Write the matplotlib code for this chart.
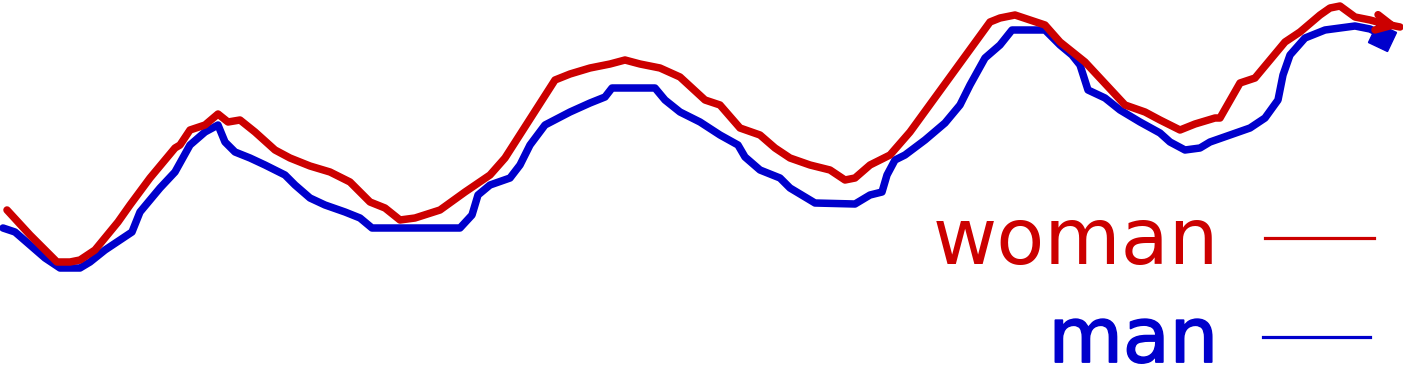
import matplotlib
matplotlib.use("Agg")
import matplotlib.pyplot as plt
import matplotlib.patheffects as pe
from matplotlib.markers import MarkerStyle
from matplotlib.transforms import Affine2D

# Data (x position, y level; y grows downward as in the picture)
woman_x = [7, 30, 57, 70, 80, 95, 118, 130, 150, 175, 180, 190, 205, 218, 228, 240, 255, 275, 290,
           310, 330, 350, 370, 385, 400, 415, 440, 465, 490, 505, 555, 570, 590, 610, 625, 640,
           660, 680, 705, 720, 740, 760, 775, 790, 810, 830, 845, 855, 870, 890, 910, 990, 1000,
           1015, 1030, 1045, 1060, 1085, 1125, 1145, 1160, 1180, 1195, 1215, 1220, 1240, 1255,
           1265, 1285, 1300, 1320, 1330, 1340, 1355, 1370, 1385, 1400]
woman_y = [210, 235, 262, 262, 260, 250, 222, 205, 178, 148, 145, 130, 125, 114, 122, 120, 132, 150, 158,
           166, 172, 182, 202, 208, 220, 218, 210, 192, 175, 158, 80, 74, 68, 64, 60, 64,
           68, 77, 100, 105, 128, 135, 148, 158, 165, 170, 180, 178, 165, 155, 132, 22, 18,
           15, 20, 25, 42, 62, 105, 112, 120, 130, 124, 118, 118, 83, 78, 66, 42, 32, 15, 8, 6, 17, 20, 24, 27]

man_x = [3, 15, 30, 45, 60, 80, 90, 105, 120, 132, 140, 160, 175, 190, 205, 218, 225, 235, 250,
         265, 285, 295, 310, 325, 345, 360, 372, 460, 472, 478, 490, 510, 520, 530, 545, 570,
         590, 605, 612, 655, 665, 680, 700, 720, 738, 745, 760, 780, 790, 810, 815, 855, 870,
         882, 887, 895, 905, 925, 945, 960, 970, 985, 1000, 1012, 1045, 1060, 1072, 1080, 1088,
         1105, 1120, 1140, 1160, 1170, 1185, 1200, 1210, 1230, 1250, 1265, 1278, 1283, 1290,
         1305, 1325, 1355, 1370, 1388]
man_y = [228, 232, 245, 258, 268, 268, 262, 250, 240, 232, 212, 188, 172, 145, 132, 125, 142, 152, 158,
         165, 175, 185, 198, 205, 212, 218, 228, 228, 215, 195, 185, 178, 165, 145, 125, 112,
         103, 97, 88, 88, 100, 112, 122, 135, 145, 157, 170, 178, 188, 200, 203, 204, 195,
         192, 175, 160, 155, 140, 123, 105, 85, 58, 45, 30, 30, 45, 55, 65, 90,
         98, 110, 122, 133, 142, 150, 148, 142, 135, 128, 118, 100, 75, 55,
         38, 30, 26, 29, 38]

labels = ["woman", "man"]
colors = ["#cc0000", "#0000cc"]

fig = plt.figure(figsize=(14.03, 3.67), dpi=100)
ax = fig.add_axes([0, 0, 1, 1])
ax.set_xlim(0, 1403)
ax.set_ylim(367, 0)
ax.axis("off")

lw = 5.4
ax.plot(man_x, man_y, color=colors[1], lw=lw, solid_capstyle="round", solid_joinstyle="round")
sq = MarkerStyle("s", transform=Affine2D().rotate_deg(-25))
ax.plot([man_x[-1] - 6], [man_y[-1] - 1], marker=sq, markersize=15, color=colors[1], lw=0)

ax.plot(woman_x, woman_y, color=colors[0], lw=lw, solid_capstyle="round", solid_joinstyle="round")
ax.annotate("", xy=(woman_x[-1], woman_y[-1]), xytext=(woman_x[-2], woman_y[-2]),
            arrowprops=dict(arrowstyle="->", color=colors[0], lw=lw, mutation_scale=28,
                            shrinkA=0, shrinkB=0))

# Legend text and lines
ax.text(1219, 264, labels[0], color=colors[0], fontsize=56.5, ha="right", va="baseline",
        family="DejaVu Sans")
ax.text(1218, 362, labels[1], color=colors[1], fontsize=55, ha="right", va="baseline",
        family="DejaVu Sans",
        path_effects=[pe.withStroke(linewidth=1.3, foreground=colors[1])])
ax.plot([1265, 1374], [238, 238], color=colors[0], lw=2.3)
ax.plot([1263, 1370], [337, 337], color=colors[1], lw=2.3)

fig.savefig("out.png", dpi=100)
